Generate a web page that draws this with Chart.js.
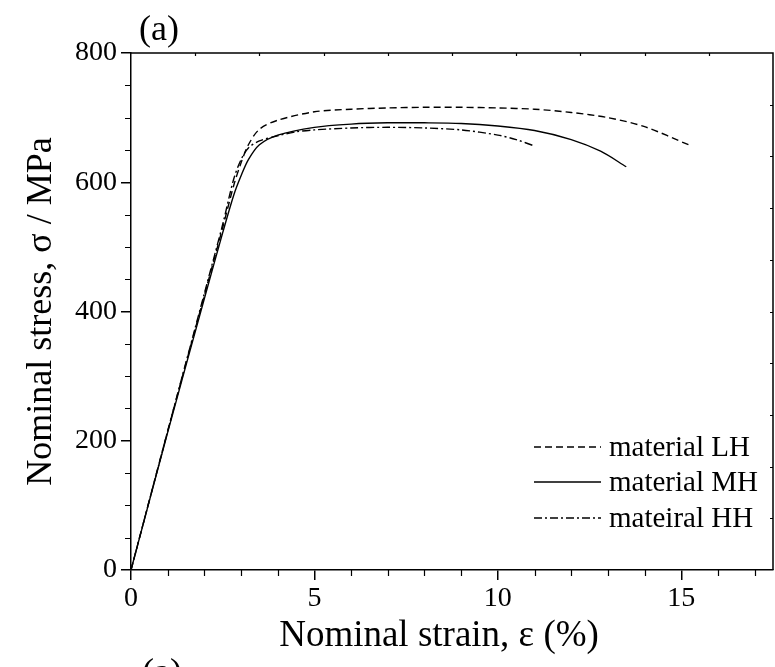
<!DOCTYPE html>
<html><head><meta charset="utf-8">
<script src="https://cdn.jsdelivr.net/npm/chart.js@4"></script>
<style>html,body{margin:0;padding:0;background:#fff}</style>
</head><body>
<canvas id="c" width="775" height="667" style="display:block;width:775px;height:667px"></canvas>
<script>
// ---- data (strain in %, stress in MPa) ----
const seriesNames = ['material LH', 'material MH', 'mateiral HH'];
const strainLH = [0, 1, 2, 2.5, 2.8, 3.0, 3.2, 3.5, 4.0, 5, 6, 7, 8, 9, 10, 11, 12, 13, 14, 15.2];
const stressLH = [0, 215, 425, 530, 595, 630, 658, 682, 696, 709, 713, 715, 716, 716, 715, 713, 708, 700, 686, 658];
const strainMH = [0, 1, 2, 2.5, 2.8, 3.0, 3.2, 3.5, 4.0, 5, 6, 7, 8, 9, 10, 11, 12, 12.8, 13.5];
const stressMH = [0, 213, 420, 522, 580, 610, 635, 658, 673, 685, 690, 692, 692, 691, 687, 680, 666, 648, 624];
const strainHH = [0, 1, 2, 2.5, 2.8, 3.0, 3.2, 3.5, 4.0, 4.5, 5, 6, 7, 8, 9, 10, 10.5, 11];
const stressHH = [0, 215, 428, 535, 605, 635, 653, 664, 672, 678, 681, 684, 685, 684, 681, 673, 666, 656];
const xTickLabels = [0, 5, 10, 15];
const yTickLabels = [0, 200, 400, 600, 800];
const xTitle = 'Nominal strain, ε (%)';
const yTitle = 'Nominal stress, σ / MPa';
const panelLabel = '(a)';

const FONT = '"Liberation Serif", "Times New Roman", serif';
const pts = (xs, ys) => xs.map((x, i) => ({x: x, y: ys[i]}));

const decor = {
  id: 'decor',
  afterDraw(chart) {
    const {ctx, chartArea: a, scales: {x, y}} = chart;
    ctx.save();
    ctx.strokeStyle = '#000';
    ctx.lineWidth = 1.5;
    // frame top/right
    ctx.beginPath();
    ctx.moveTo(a.left, a.top); ctx.lineTo(a.right, a.top); ctx.lineTo(a.right, a.bottom);
    ctx.stroke();
    ctx.lineWidth = 1.2;
    // minor ticks
    ctx.beginPath();
    for (let v = 0; v <= 17; v++) {
      if (v % 5 === 0) continue;
      const px = Math.round(x.getPixelForValue(v)) + 0.5;
      ctx.moveTo(px, a.bottom); ctx.lineTo(px, a.bottom + 6);
    }
    for (let v = 0; v <= 800; v += 50) {
      if (v % 200 === 0) continue;
      const py = Math.round(y.getPixelForValue(v)) + 0.5;
      ctx.moveTo(a.left, py); ctx.lineTo(a.left - 6, py);
    }
    // top & right small inward ticks
    for (let i = 1; i < 10; i++) {
      const px = Math.round(a.left + i * (a.right - a.left) / 10) + 0.5;
      ctx.moveTo(px, a.top); ctx.lineTo(px, a.top + 3);
      const py = Math.round(a.top + i * (a.bottom - a.top) / 10) + 0.5;
      ctx.moveTo(a.right, py); ctx.lineTo(a.right - 3, py);
    }
    ctx.stroke();
    // legend
    ctx.font = '29px ' + FONT;
    ctx.textBaseline = 'middle';
    ctx.textAlign = 'left';
    ctx.fillStyle = '#000';
    const rows = [447, 482, 518];
    chart.data.datasets.forEach((ds, i) => {
      ctx.save();
      ctx.lineWidth = ds.borderWidth;
      ctx.setLineDash(ds.borderDash || []);
      ctx.beginPath();
      ctx.moveTo(534, rows[i]); ctx.lineTo(601, rows[i]);
      ctx.stroke();
      ctx.restore();
      ctx.fillText(ds.label, 609, rows[i] + 1);
    });
    // x axis title
    ctx.font = '37px ' + FONT;
    ctx.textAlign = 'center';
    ctx.fillText(xTitle, 439, 636);
    // panel labels
    ctx.font = '36px ' + FONT;
    ctx.textAlign = 'left';
    ctx.textBaseline = 'alphabetic';
    ctx.fillText(panelLabel, 139, 40);
    ctx.fillText(panelLabel, 142, 683);
    ctx.restore();
  }
};

new Chart(document.getElementById('c'), {
  type: 'scatter',
  data: {
    datasets: [
      {label: seriesNames[0], data: pts(strainLH, stressLH), showLine: true, borderColor: '#000', borderWidth: 1.4, borderDash: [7, 4], pointRadius: 0, tension: 0.3, fill: false},
      {label: seriesNames[1], data: pts(strainMH, stressMH), showLine: true, borderColor: '#000', borderWidth: 1.4, borderDash: [], pointRadius: 0, tension: 0.3, fill: false},
      {label: seriesNames[2], data: pts(strainHH, stressHH), showLine: true, borderColor: '#000', borderWidth: 1.4, borderDash: [8, 3, 2, 3], pointRadius: 0, tension: 0.3, fill: false}
    ]
  },
  options: {
    responsive: false,
    animation: false,
    layout: {padding: {top: 53, right: 2, left: 0, bottom: 0}},
    plugins: {legend: {display: false}, tooltip: {enabled: false}},
    scales: {
      x: {
        type: 'linear', min: 0, max: 17.5,
        afterFit: s => { s.height = 97; },
        afterBuildTicks: s => { s.ticks = xTickLabels.map(v => ({value: v})); },
        ticks: {color: '#000', font: {family: FONT, size: 28}, padding: 2, maxRotation: 0},
        grid: {display: true, drawOnChartArea: false, drawTicks: true, tickLength: 10, color: '#000', lineWidth: 1.5},
        border: {display: true, color: '#000', width: 1.5},
        title: {display: false}
      },
      y: {
        type: 'linear', min: 0, max: 800,
        afterFit: s => { s.width = 131; },
        afterBuildTicks: s => { s.ticks = yTickLabels.map(v => ({value: v})); },
        ticks: {color: '#000', font: {family: FONT, size: 28}, padding: 4},
        grid: {display: true, drawOnChartArea: false, drawTicks: true, tickLength: 10, color: '#000', lineWidth: 1.5},
        border: {display: true, color: '#000', width: 1.5},
        title: {display: true, text: yTitle, color: '#000', font: {family: FONT, size: 36}, padding: {top: 20, bottom: 0}}
      }
    }
  },
  plugins: [decor]
});
</script>
</body></html>
